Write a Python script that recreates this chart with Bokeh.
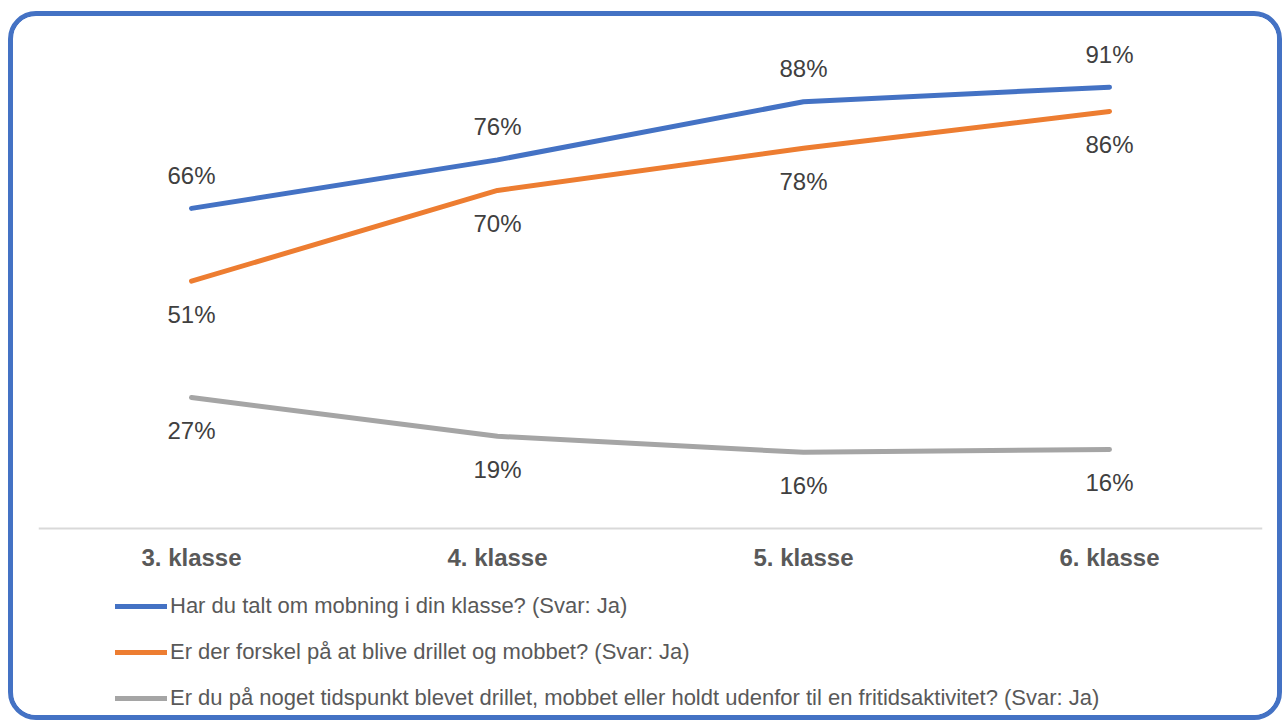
from bokeh.plotting import figure
from bokeh.models import FactorRange, Range1d, Legend, LegendItem, ColumnDataSource, CategoricalAxis
from bokeh.core.properties import value
from bokeh.embed import file_html
from bokeh.resources import INLINE

categories = ["3. klasse", "4. klasse", "5. klasse", "6. klasse"]
talt_om_mobning = [66, 76, 88, 91]
forskel_drillet_mobbet = [51, 69.7, 78.4, 86]
fritidsaktivitet = [27, 19, 15.7, 16.3]
series_names = [
    "Har du talt om mobning i din klasse? (Svar: Ja)",
    "Er der forskel på at blive drillet og mobbet? (Svar: Ja)",
    "Er du på noget tidspunkt blevet drillet, mobbet eller holdt udenfor til en fritidsaktivitet? (Svar: Ja)",
]
series_values = [talt_om_mobning, forskel_drillet_mobbet, fritidsaktivitet]
colors = ["#4472C4", "#ED7D31", "#A5A5A5"]
label_offsets = [-33, 33, 33]

FONT = "Liberation Sans"

p = figure(
    width=1274, height=709,
    x_range=FactorRange(*categories, range_padding=0),
    y_range=Range1d(-39.6, 100),
    x_axis_type=None, y_axis_type=None,
    output_backend="svg", toolbar_location=None,
    min_border_left=25, min_border_right=25, min_border_top=27, min_border_bottom=5,
)
p.styles = {"border": "5px solid #4472C4", "border-radius": "28px",
            "margin-left": "8px", "margin-top": "11px", "overflow": "hidden"}
p.outline_line_color = None
p.xgrid.visible = False
p.ygrid.visible = False

ax = CategoricalAxis(fixed_location=0)
ax.axis_line_color = "#D9D9D9"
ax.axis_line_width = 2
ax.major_tick_line_color = None
ax.minor_tick_line_color = None
ax.major_label_standoff = 10
ax.major_label_text_font = FONT
ax.major_label_text_font_size = "24px"
ax.major_label_text_font_style = "bold"
ax.major_label_text_color = "#595959"
p.add_layout(ax, "below")

items = []
for name, vals, col, off in zip(series_names, series_values, colors, label_offsets):
    src = ColumnDataSource(dict(x=categories, y=vals, lab=[f"{round(v)}%" for v in vals]))
    r = p.line("x", "y", source=src, line_color=col, line_width=5, line_cap="round", line_join="round")
    p.text("x", "y", text="lab", source=src, text_align="center", text_baseline="middle",
           y_offset=off, text_font=value(FONT), text_font_size="24px", text_color="#404040")
    items.append(LegendItem(label=name, renderers=[r]))

legend = Legend(items=items, location=(77, 9), orientation="vertical",
                label_text_font=FONT, label_text_font_size="22px", label_text_color="#595959",
                glyph_width=52, glyph_height=24, label_height=24, label_standoff=3,
                spacing=20, padding=0, margin=0,
                border_line_color=None, background_fill_alpha=0)
p.add_layout(legend, "center")

open("out.html", "w").write(file_html(p, INLINE))
